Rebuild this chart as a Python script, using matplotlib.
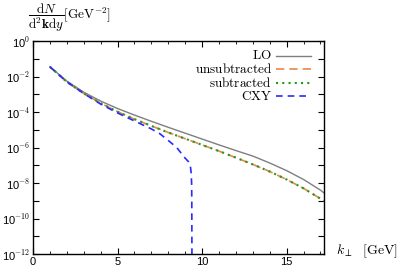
import numpy as np
import matplotlib
matplotlib.use("Agg")
import matplotlib.pyplot as plt
from matplotlib.ticker import FixedLocator, MultipleLocator, FuncFormatter

plt.rcParams['mathtext.fontset'] = 'cm'

# log10 of dN/d^2k dy
k_lo = [1, 2, 3, 4, 5, 6, 7, 8, 9, 10, 11, 12, 13, 14, 15, 16, 17, 17.2]
lo = [-1.45, -2.25, -2.88, -3.38, -3.8, -4.17, -4.52, -4.86, -5.19, -5.52,
      -5.85, -6.17, -6.48, -6.87, -7.3, -7.8, -8.4, -8.55]

k_sub = [1, 2, 3, 4, 5, 6, 7, 8, 9, 10, 11, 12, 13, 14, 15, 16, 17, 17.2]
sub = [-1.45, -2.3, -2.95, -3.5, -3.98, -4.4, -4.78, -5.15, -5.5, -5.85,
       -6.2, -6.57, -6.95, -7.35, -7.8, -8.3, -8.88, -9.0]
unsub = sub

k_cxy = [1, 2, 3, 4, 5, 6, 7, 7.5, 8, 8.5, 9, 9.2, 9.3, 9.35, 9.38, 9.39, 9.4]
cxy = [-1.45, -2.3, -2.95, -3.55, -4.05, -4.5, -4.95, -5.22, -5.6, -6.0,
       -6.6, -6.8, -7.0, -7.4, -8.0, -9.0, -12.5]

labels = ['LO', 'unsubtracted', 'subtracted', 'CXY']
colors = ['#7f7f7f', '#e8884a', '#1f9a1f', '#2a2aff']
styles = [dict(lw=1.0), dict(lw=1.2, dashes=(5, 3)),
          dict(lw=1.5, dashes=(1, 2)), dict(lw=1.2, dashes=(4, 3))]

fig = plt.figure(figsize=(3.99, 2.72), dpi=100)
ax = fig.add_axes([0.0827, 0.066, 0.729, 0.783])

series = [(k_lo, lo), (k_sub, unsub), (k_sub, sub), (k_cxy, cxy)]
for (kk, vv), c, st in zip(series, colors, styles):
    ax.plot(kk, 10.0 ** np.array(vv), color=c, **st)

ax.set_yscale('log')
ax.set_xlim(0, 17.2)
ax.set_ylim(1e-12, 1)

ax.xaxis.set_major_locator(FixedLocator([0, 5, 10, 15]))
ax.xaxis.set_minor_locator(MultipleLocator(1))
ax.yaxis.set_major_locator(FixedLocator([10.0 ** e for e in range(-12, 1)]))
ax.yaxis.set_minor_locator(FixedLocator([]))


def ylab(v, pos):
    e = int(round(np.log10(v)))
    if e % 2:
        return ''
    return '10$^{\\mathsf{%d}}$' % e


ax.yaxis.set_major_formatter(FuncFormatter(ylab))
ax.tick_params(which='both', direction='in', top=True, right=True,
               labelsize=8, pad=2)
ax.tick_params(which='major', length=4)
ax.tick_params(which='minor', length=2.5)
for t in ax.get_xticklabels() + ax.get_yticklabels():
    t.set_family('Liberation Sans')
for s in ax.spines.values():
    s.set_linewidth(1.0)

# gnuplot-style key: right-aligned text, sample line on its right
for i, (lab, c, st) in enumerate(zip(labels, colors, styles)):
    y = 0.932 - i * 0.064
    ax.text(0.821, y, r'$\mathrm{%s}$' % lab, transform=ax.transAxes,
            ha='right', va='center', fontsize=9.5)
    ax.plot([0.835, 0.955], [y, y], transform=ax.transAxes, color=c, **st)

fig.text(0.07, 0.935, r'$\dfrac{\mathrm{d}N}{\mathrm{d}^2\mathbf{k}\mathrm{d}y}$'
         r'$[\mathrm{GeV}^{-2}]$', fontsize=9.5, va='center', ha='left')
fig.text(0.92, 0.075, r'$k_\perp\ \ [\mathrm{GeV}]$', fontsize=10,
         va='center', ha='center')

fig.savefig('out.png', dpi=100)
